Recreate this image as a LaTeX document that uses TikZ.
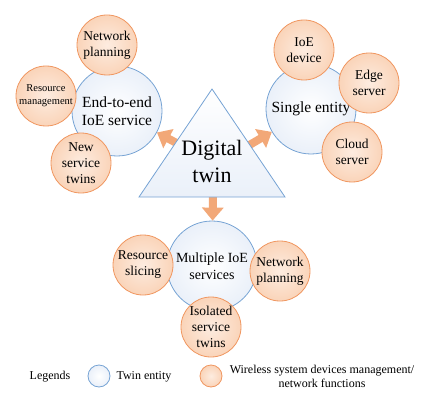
\documentclass[tikz,border=0pt]{standalone}
\usepackage{fontspec}
\setmainfont{Liberation Serif}
\usetikzlibrary{arrows.meta}

\definecolor{twinblue}{RGB}{118,163,212}
\definecolor{twinfill}{RGB}{234,240,249}
\definecolor{funcorange}{RGB}{240,150,95}
\definecolor{funcin}{RGB}{253,236,224}
\definecolor{funcout}{RGB}{250,212,185}
\definecolor{arrorange}{RGB}{242,168,120}

\begin{document}
\begin{tikzpicture}[x=1pt,y=-1pt,
    twin/.style={circle, draw=twinblue, line width=0.8pt, inner color=white, outer color=twinfill,
        minimum size=90pt, inner sep=0pt, align=center, font=\fontsize{15.5}{18.5}\selectfont},
    func/.style={circle, draw=funcorange, line width=0.8pt, inner color=funcin, outer color=funcout,
        minimum size=60pt, inner sep=0pt, align=center, font=\fontsize{13.5}{16}\selectfont},
    bigarrow/.style={draw=arrorange, line width=8pt, -{Triangle[width=21pt,length=13pt]}}]
    \useasboundingbox (0,0) rectangle (436,409);

    % End-to-end IoE service
    \node[twin] (e2e) at (117,111) {End-to-end\\IoE service};
    \node[func] (plan1) at (107,45) {Network\\planning};
    \node[func, font=\fontsize{10.5}{13}\selectfont] (resmgmt) at (46,96) {Resource\\management};
    \node[func] (newtwins) at (81,163) {New\\service\\twins};

    % Single entity
    \node[twin] (single) at (311,109) {Single entity};
    \node[func] (device) at (304,50) {IoE\\device};
    \node[func] (edge) at (369,83) {Edge\\server};
    \node[func] (cloud) at (352,152) {Cloud\\server};

    % Multiple IoE services
    \node[twin, font=\fontsize{14}{16.5}\selectfont] (multi) at (212,266) {Multiple IoE\\services};
    \node[func] (slicing) at (143,265) {Resource\\slicing};
    \node[func] (plan2) at (280,271) {Network\\planning};
    \node[func] (isotwins) at (211,327) {Isolated\\service\\twins};

    % Arrows out of the twin
    \coordinate (outleft) at (183,146.5);
    \coordinate (outright) at (246,147);
    \coordinate (outdown) at (213,190);
    \draw[bigarrow] (outleft) -- (e2e);
    \draw[bigarrow] (outright) -- (single);
    \draw[bigarrow] (outdown) -- (multi);

    % Digital twin
    \draw[twinblue, line width=0.8pt, top color=white, bottom color=twinfill]
        (212,89) -- (139,197) -- (285,197) -- cycle;
    \node[align=center, font=\fontsize{22}{27}\selectfont] (dt) at (212,161) {Digital\\twin};

    % Legends
    \node (legends) at (50,377) {\fontsize{12}{14}\selectfont Legends};
    \node[twin, minimum size=22pt] (keytwin) at (99,376) {};
    \node[anchor=west, font=\fontsize{12}{14}\selectfont] (keytwintext) at (113,377) {Twin entity};
    \node[func, minimum size=22pt] (keyfunc) at (211,376) {};
    \node[align=center, font=\fontsize{12}{14}\selectfont] (keyfunctext) at (322,376)
        {Wireless system devices management/\\network functions};
\end{tikzpicture}
\end{document}
